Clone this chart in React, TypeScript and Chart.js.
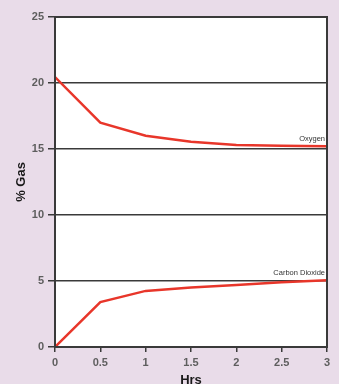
import React, { useEffect, useRef } from "react";
import { Chart, registerables } from "chart.js";

Chart.register(...registerables);

const hours = [0, 0.5, 1, 1.5, 2, 2.5, 3];
const oxygen = [20.45, 17.0, 16.0, 15.55, 15.3, 15.25, 15.2];
const carbonDioxide = [0, 3.4, 4.25, 4.5, 4.7, 4.9, 5.05];
const seriesNames = ["Oxygen", "Carbon Dioxide"];
const xTitle = "Hrs";
const yTitle = "% Gas";

const BG = "#e9dce9";
const LINE = "#e8362a";
const GRID = "#3a3a3a";
const TICK = "#5e5e5e";

const framePlugin = {
  id: "frame",
  beforeDraw(chart: any) {
    const { ctx, chartArea: a } = chart;
    ctx.save();
    ctx.fillStyle = BG;
    ctx.fillRect(0, 0, chart.width, chart.height);
    ctx.fillStyle = "#ffffff";
    ctx.fillRect(a.left, a.top, a.right - a.left, a.bottom - a.top);
    ctx.restore();
  },
  afterDraw(chart: any) {
    const { ctx, chartArea: a } = chart;
    ctx.save();
    ctx.strokeStyle = "#3a3a3a";
    ctx.lineWidth = 2;
    ctx.strokeRect(a.left, a.top, a.right - a.left, a.bottom - a.top);
    // axis titles
    ctx.fillStyle = "#1a1a1a";
    ctx.font = "bold 13px 'Liberation Sans', Arial, sans-serif";
    ctx.textAlign = "center";
    ctx.textBaseline = "alphabetic";
    ctx.fillText(xTitle, (a.left + a.right) / 2, 384);
    ctx.translate(21, (a.top + a.bottom) / 2);
    ctx.rotate(-Math.PI / 2);
    ctx.textBaseline = "middle";
    ctx.fillText(yTitle, 0, 0);
    ctx.restore();
    // series labels
    ctx.save();
    ctx.font = "7.5px 'Liberation Sans', Arial, sans-serif";
    ctx.fillStyle = "#333333";
    ctx.textAlign = "right";
    ctx.textBaseline = "alphabetic";
    chart.data.datasets.forEach((ds: any, i: number) => {
      const meta = chart.getDatasetMeta(i);
      const last = meta.data[meta.data.length - 1];
      ctx.fillText(ds.label, a.right - 2, last.y - 5);
    });
    ctx.restore();
  },
};

export default function App() {
  const ref = useRef<HTMLCanvasElement>(null);
  useEffect(() => {
    const chart = new Chart(ref.current!, {
      type: "line",
      data: {
        datasets: [
          {
            label: seriesNames[0],
            data: hours.map((h, i) => ({ x: h, y: oxygen[i] })),
            borderColor: LINE,
            borderWidth: 2.5,
            pointRadius: 0,
            tension: 0,
          },
          {
            label: seriesNames[1],
            data: hours.map((h, i) => ({ x: h, y: carbonDioxide[i] })),
            borderColor: LINE,
            borderWidth: 2.5,
            pointRadius: 0,
            tension: 0,
          },
        ],
      },
      options: {
        animation: false,
        responsive: false,
        events: [],
        layout: { padding: { left: 0, top: 17, right: 12, bottom: 0 } },
        plugins: { legend: { display: false }, tooltip: { enabled: false } },
        scales: {
          x: {
            type: "linear",
            min: 0,
            max: 3,
            ticks: {
              stepSize: 0.5,
              color: TICK,
              padding: 4,
              maxRotation: 0,
              callback: (v: any) => String(Number(v)),
              font: { family: "'Liberation Sans', Arial, sans-serif", size: 11, weight: "bold" },
            },
            grid: { drawOnChartArea: false, drawTicks: true, tickLength: 5, color: GRID, lineWidth: 1.5 },
            border: { display: true, color: GRID, width: 2 },
            afterFit(scale: any) {
              scale.height = 37;
            },
          },
          y: {
            min: 0,
            max: 25,
            ticks: {
              stepSize: 5,
              color: TICK,
              padding: 4,
              font: { family: "'Liberation Sans', Arial, sans-serif", size: 11, weight: "bold" },
            },
            grid: { color: GRID, lineWidth: 1.5, drawTicks: true, tickLength: 7 },
            border: { display: true, color: GRID, width: 2 },
            afterFit(scale: any) {
              scale.width = 55;
            },
          },
        },
      } as any,
      plugins: [framePlugin],
    });
    return () => chart.destroy();
  }, []);
  return (
    <div style={{ position: "fixed", left: 0, top: 0, width: 339, height: 384, background: BG }}>
      <canvas ref={ref} width={339} height={384} style={{ display: "block", width: 339, height: 384 }} />
    </div>
  );
}
